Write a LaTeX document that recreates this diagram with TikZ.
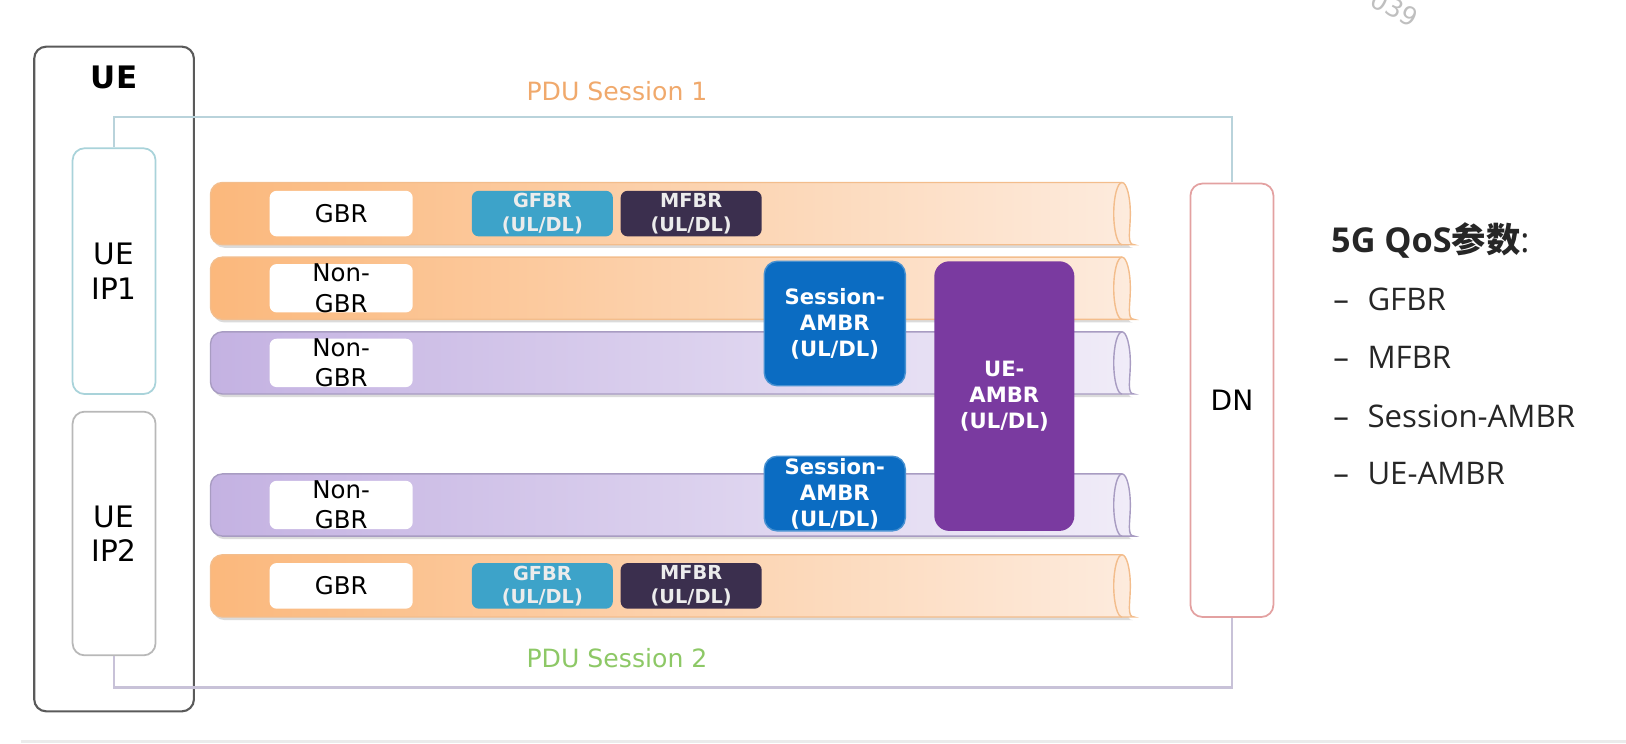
\documentclass[tikz,border=0pt]{standalone}
\usepackage{fontspec}
\setmainfont{DejaVu Sans}
\newfontfamily\listfont{Open Sans}
\newfontfamily\cjkfont{Noto Sans CJK SC}
\usepackage{tikz}
\usetikzlibrary{positioning, calc}
\definecolor{uegray}{HTML}{5A5A5A}
\definecolor{ipone}{HTML}{A9D3DA}
\definecolor{iptwo}{HTML}{B8B8B8}
\definecolor{dnred}{HTML}{E3A1A1}
\definecolor{sessone}{HTML}{B9D3DB}
\definecolor{sesstwo}{HTML}{C8C2D8}
\definecolor{pduorange}{HTML}{F0A96C}
\definecolor{pdugreen}{HTML}{8DC866}
\definecolor{orL}{HTML}{FBB87C}
\definecolor{orR}{HTML}{FDEBDD}
\definecolor{orE}{HTML}{F3BD8C}
\definecolor{puL}{HTML}{C4B2E2}
\definecolor{puR}{HTML}{F0ECF8}
\definecolor{puE}{HTML}{A89CC2}
\definecolor{gfbrblue}{HTML}{3DA3C9}
\definecolor{mfbrdark}{HTML}{3B2F4E}
\definecolor{sessblue}{HTML}{0B6CC2}
\definecolor{ueambr}{HTML}{7A3AA0}
\colorlet{ratetext}{white!85!gray}

\begin{document}
\begin{tikzpicture}[scale=1.037, transform shape, 
    box/.style={draw, 
      rounded corners=0.12cm, 
      inner sep=0, 
      align=center}, 
    pipelabel/.style={fill=white, 
      rounded corners=2pt, 
      minimum width=1.38cm, 
      minimum height=0.44cm, 
      inner sep=0, 
      align=center, 
      font=\fontsize{6.7}{8.3}\selectfont}, 
    ratebox/.style={rounded corners=2pt, 
      minimum width=1.36cm, 
      minimum height=0.44cm, 
      inner sep=0, 
      align=center, 
      text=ratetext, 
      font=\bfseries\fontsize{5.3}{6.4}\selectfont}, 
    ambrbox/.style={rounded corners=0.13cm, 
      minimum width=1.36cm, 
      inner sep=0, 
      align=center, 
      text=white, 
      font=\bfseries\fontsize{5.8}{7.1}\selectfont}, 
    qositem/.style={anchor=west, 
      inner sep=0, 
      text=black!85, 
      font=\listfont\fontsize{8.55}{10}\selectfont}]

  \useasboundingbox (0,0.27) rectangle (15.68,7.44);

% UE AND DN

  \node [box, draw=uegray, line width=0.6pt, 
    minimum width=1.54cm, 
    minimum height=6.41cm] (uebox) at (1.10,3.785) {};

  \node [font=\bfseries\fontsize{8.5}{10}\selectfont] (uetitle) at (1.10,6.69) {UE};

  \node [box, draw=ipone, line width=0.5pt, 
    minimum width=0.80cm, 
    minimum height=2.37cm, 
    font=\fontsize{8.1}{9.4}\selectfont] (ueipone) at (1.10,4.825) {UE\\IP1};

  \node [box, draw=iptwo, line width=0.5pt, 
    minimum width=0.80cm, 
    minimum height=2.35cm, 
    font=\fontsize{8.1}{9.4}\selectfont] (ueiptwo) at (1.10,2.295) {UE\\IP2};

  \node [box, draw=dnred, line width=0.5pt, 
    minimum width=0.80cm, 
    minimum height=4.18cm, 
    font=\fontsize{7.7}{9}\selectfont] (dn) at (11.88,3.58) {DN};

  % PDU SESSIONS

  \coordinate (sessoneleft) at (1.10,6.31);
  \coordinate (sessoneright) at (11.88,6.31);
  \coordinate (sesstwoleft) at (1.10,0.81);
  \coordinate (sesstworight) at (11.88,0.81);

  \draw [sessone, line width=0.6pt] (ueipone.north) -- (sessoneleft) 
  -- (sessoneright) -- (dn.north);
  \draw [sesstwo, line width=0.6pt] (ueiptwo.south) -- (sesstwoleft) 
  -- (sesstworight) -- (dn.south);

  \node [text=pduorange, font=\fontsize{6.9}{8}\selectfont] (sessonetitle) at (5.95,6.56) {PDU Session 1};
  \node [text=pdugreen, font=\fontsize{6.9}{8}\selectfont] (sesstwotitle) at (5.95,1.09) {PDU Session 2};

  % PIPES

  \foreach \c/\lft/\rgt/\edge in {5.38/orL/orR/orE, 4.66/orL/orR/orE, 
    3.94/puL/puR/puE, 2.57/puL/puR/puE, 1.79/orL/orR/orE} {
    \fill [black!14] (10.81,\c-0.33) 
    arc[start angle=-90, end angle=90, x radius=0.07, y radius=0.26] 
    [rounded corners=0.12cm] -- (2.05,\c+0.2) -- (2.05,\c-0.33) -- cycle;
    \shade [draw=\edge, line width=0.4pt, left color=\lft, right color=\rgt] 
    (10.82,\c-0.3) arc[start angle=-90, end angle=90, x radius=0.08, y radius=0.3] 
    [rounded corners=0.12cm] -- (2.03,\c+0.3) -- (2.03,\c-0.3) -- cycle;
    \draw [\edge, line width=0.4pt] (10.82,\c-0.3) 
    arc[start angle=270, end angle=90, x radius=0.08, y radius=0.3];
  }

  % FLOW LABELS

  \node [pipelabel] (gbrone) at (3.29,5.38) {GBR};
  \node [pipelabel] (nongbrone) at (3.29,4.66) {Non-\\GBR};
  \node [pipelabel] (nongbrtwo) at (3.29,3.94) {Non-\\GBR};
  \node [pipelabel] (nongbrthree) at (3.29,2.57) {Non-\\GBR};
  \node [pipelabel] (gbrtwo) at (3.29,1.79) {GBR};

  % RATES

  \node [ratebox, fill=gfbrblue] (gfbrone) at (5.23,5.38) {GFBR\\(UL/DL)};
  \node [ratebox, fill=mfbrdark] (mfbrone) at (6.665,5.38) {MFBR\\(UL/DL)};
  \node [ratebox, fill=gfbrblue] (gfbrtwo) at (5.23,1.79) {GFBR\\(UL/DL)};
  \node [ratebox, fill=mfbrdark] (mfbrtwo) at (6.665,1.79) {MFBR\\(UL/DL)};

  \node [ambrbox, fill=sessblue, draw=sessblue!75!white, line width=0.4pt, 
    minimum height=1.20cm] (sessambrone) at (8.05,4.32) {Session-\\AMBR\\(UL/DL)};
  \node [ambrbox, fill=sessblue, draw=sessblue!75!white, line width=0.4pt, 
    minimum height=0.72cm] (sessambrtwo) at (8.05,2.68) {Session-\\AMBR\\(UL/DL)};
  \node [ambrbox, fill=ueambr, rounded corners=0.15cm, 
    minimum width=1.35cm, 
    minimum height=2.60cm] (ueambrbox) at (9.685,3.62) {UE-\\AMBR\\(UL/DL)};

  % QOS PARAMETERS

  \node [anchor=west, inner sep=0, text=black!85, 
    font=\listfont\bfseries\fontsize{9.4}{11}\selectfont] (qostitle) at (12.83,5.12) 
    {5G QoS{\cjkfont\bfseries 参数}\mdseries:};

  \foreach \param/\y [count=\i] in {GFBR/4.55, MFBR/3.99, Session-AMBR/3.43, UE-AMBR/2.87}
    \node [qositem] (qos\i) at (12.85,\y) {–\hspace{0.6em}\param};

  \node [text=black!25, rotate=-28, font=\fontsize{7}{8}\selectfont] (mark) at (13.45,7.36) {039};
  \draw [black!8, line width=1pt] (0.2,0.29) -- (15.68,0.29);

\end{tikzpicture}
\end{document}
